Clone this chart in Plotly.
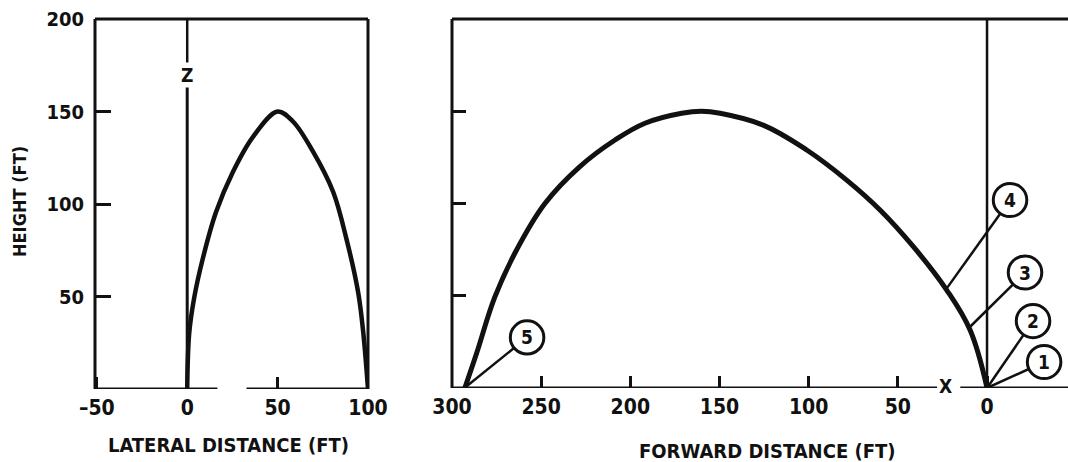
import plotly.graph_objects as go

# Lateral (Y-Z) trajectory, feet
lateral_y = [0, 1.1, 3.9, 8.5, 15.9, 25.2, 36.3, 50, 58.5, 69.6, 80.7, 88.1, 94.6, 97.4, 100]
lateral_z = [0, 30, 49.5, 70, 95.5, 117.2, 136.2, 150, 144.6, 128.3, 106.6, 81, 52, 30.3, 0]

# Forward (X-Z) trajectory, feet
forward_x = [292.8, 286.2, 275.9, 263.8, 247.9, 228.3, 208.6, 191.8, 171.2, 160,
             149.7, 125.5, 101.1, 78.7, 60, 41.3, 22.6, 9.5, 0]
forward_z = [0, 18.8, 49.5, 74.8, 100, 120, 134.4, 143.5, 148.9, 150,
             148.9, 142.5, 129, 112.7, 96.5, 76.6, 53.1, 31.4, 0]

lat_ticks = [-50, 0, 50, 100]
lat_ticktext = ["\u201350", "0", "50", "100"]
height_ticks = [50, 100, 150, 200]
fwd_ticks = [300, 250, 200, 150, 100, 50, 0]

# Numbered event markers along the forward trajectory: (label, start x, start z, circle x, circle z)
events = [
    ("1", 0, 0, -32.0, 14.1),
    ("2", 0, 0, -25.8, 36.3),
    ("3", 9.5, 33.2, -21.3, 62.6),
    ("4", 22.6, 54.0, -12.9, 101.9),
    ("5", 293, 0, 257.9, 27.4),
]

FONT = "Liberation Sans Narrow, Arial Narrow, DejaVu Sans Condensed, sans-serif"
W, H = 1068, 462
INK = "#111111"
LAT_RANGE = [-51, 100]
FWD_RANGE = [300, -45.4]

fig = go.Figure()
fig.add_trace(go.Scatter(x=lateral_y, y=lateral_z, mode="lines", line=dict(color=INK, width=4.5, shape="spline", smoothing=1.0),
                         xaxis="x", yaxis="y", showlegend=False, hoverinfo="skip"))
fig.add_trace(go.Scatter(x=forward_x, y=forward_z, mode="lines", line=dict(color=INK, width=5, shape="spline", smoothing=1.1),
                         xaxis="x2", yaxis="y2", showlegend=False, hoverinfo="skip"))

shapes = []
def seg(xref, yref, x0, y0, x1, y1, w=3):
    shapes.append(dict(type="line", xref=xref, yref=yref, x0=x0, y0=y0, x1=x1, y1=y1,
                       line=dict(color=INK, width=w), layer="above"))

# Lateral panel frame, with gap in the base line for the Y label
seg("x domain", "y domain", 0, 0, 0, 1)
seg("x domain", "y domain", 0, 1, 1, 1)
seg("x domain", "y domain", 1, 0, 1, 1)
seg("x", "y", LAT_RANGE[0], 0, 16.7, 0)
seg("x", "y", 32.8, 0, LAT_RANGE[1], 0)
# Z axis with gap for its label
seg("x", "y", 0, 0, 0, 163)
seg("x", "y", 0, 176.5, 0, 200, w=2.5)

# Forward panel frame, with gap in the base line for the X label
seg("x2 domain", "y2 domain", 0, 0, 0, 1)
seg("x2 domain", "y2 domain", 0, 1, 1, 1)
seg("x2", "y2", FWD_RANGE[0], 0, 28, 0)
seg("x2", "y2", 15, 0, FWD_RANGE[1], 0)
seg("x2", "y2 domain", 0, 0, 0, 1, w=2.5)

annotations = []
rx, rz = 9.4, 9.0
for label, sx, sz, cx, cz in events:
    seg("x2", "y2", sx, sz, cx, cz, w=2.5)
for label, sx, sz, cx, cz in events:
    shapes.append(dict(type="circle", xref="x2", yref="y2", x0=cx - rx, x1=cx + rx, y0=cz - rz, y1=cz + rz,
                       line=dict(color=INK, width=3), fillcolor="white", layer="above"))
    annotations.append(dict(x=cx, y=cz, xref="x2", yref="y2", text=label, showarrow=False,
                            font=dict(family=FONT, size=19, color=INK, weight="bold")))

def label(x, y, xref, yref, text, size, angle=0):
    annotations.append(dict(x=x, y=y, xref=xref, yref=yref, text=text, showarrow=False, textangle=angle,
                            xanchor="center", yanchor="middle",
                            font=dict(family=FONT, size=size, color=INK, weight="bold")))

label(0, 169.8, "x", "y", "Z", 19)
label(25, -1, "x", "y", "Y", 19)
label(23.3, 1, "x2", "y2", "X", 19)
label(20 / W, 1 - 202 / H, "paper", "paper", "HEIGHT (FT)", 18, -90)
label(228 / W, 1 - 445 / H, "paper", "paper", "LATERAL DISTANCE (FT)", 20)
label(767 / W, 1 - 451 / H, "paper", "paper", "FORWARD DISTANCE (FT)", 20)

tickfont = dict(family=FONT, size=21, color=INK, weight="bold")
fig.update_layout(
    width=W, height=H,
    margin=dict(l=0, r=0, t=0, b=0, autoexpand=False),
    paper_bgcolor="white", plot_bgcolor="white",
    shapes=shapes, annotations=annotations,
    xaxis=dict(domain=[95 / W, 368 / W], range=LAT_RANGE, showgrid=False, zeroline=False, showline=False,
               tickmode="array", tickvals=lat_ticks, ticktext=lat_ticktext, ticks="inside", ticklen=12,
               tickwidth=3, tickcolor=INK, tickfont=tickfont, ticklabelstandoff=4, anchor="y", automargin=False),
    yaxis=dict(domain=[1 - 389 / H, 1 - 19 / H], range=[0, 200], showgrid=False, zeroline=False, showline=False,
               tickmode="array", tickvals=height_ticks, ticks="inside", ticklen=16, tickwidth=3, tickcolor=INK,
               tickfont=dict(family=FONT, size=20, color=INK, weight="bold"), ticklabelstandoff=10, anchor="x",
               automargin=False),
    xaxis2=dict(domain=[452 / W, 1.0], range=FWD_RANGE, showgrid=False, zeroline=False, showline=False,
                tickmode="array", tickvals=fwd_ticks, ticks="inside", ticklen=12, tickwidth=3, tickcolor=INK,
                tickfont=tickfont, ticklabelstandoff=4, anchor="y2", automargin=False),
    yaxis2=dict(domain=[1 - 388 / H, 1 - 19 / H], range=[0, 200], showgrid=False, zeroline=False, showline=False,
                tickmode="array", tickvals=[50, 100, 150], ticks="inside", ticklen=14, tickwidth=3, tickcolor=INK,
                showticklabels=False, anchor="x2", automargin=False),
)

fig.write_html("out.html")
